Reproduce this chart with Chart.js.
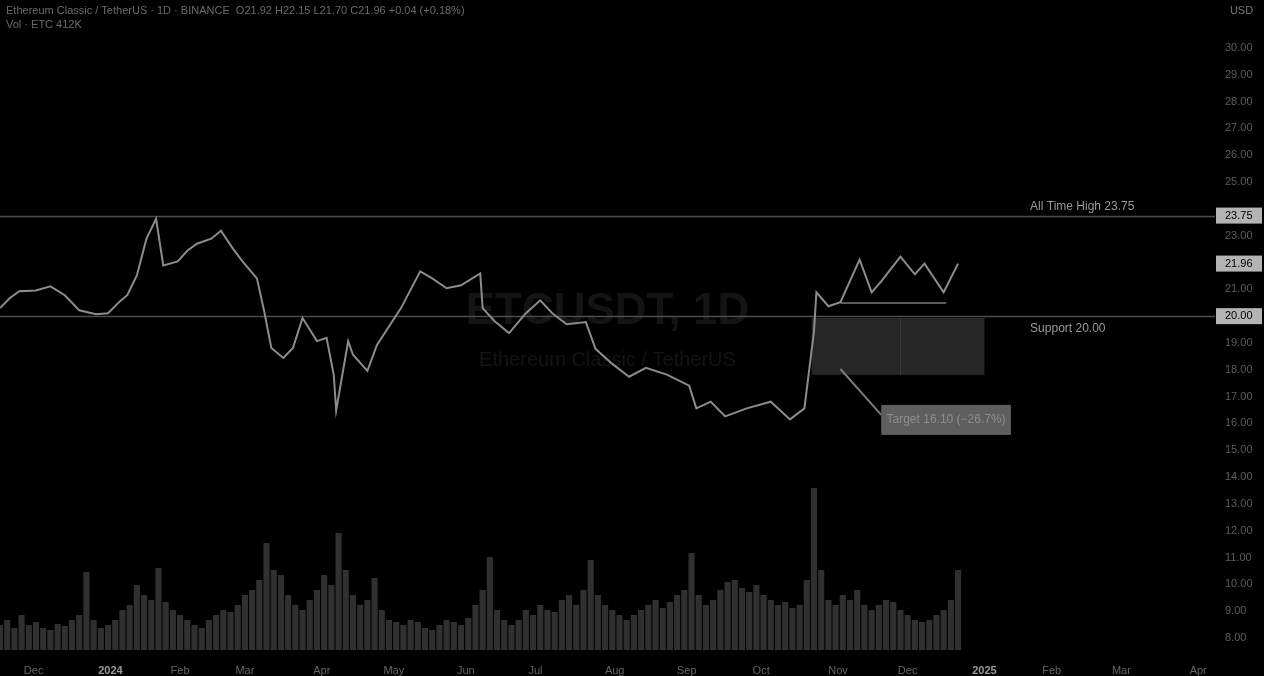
<!DOCTYPE html>
<html>
<head>
<meta charset="utf-8">
<script src="https://cdn.jsdelivr.net/npm/chart.js@4.4.1/dist/chart.umd.min.js"></script>
<style>
  html, body { margin: 0; padding: 0; background: #000; overflow: hidden; }
  canvas { display: block; }
</style>
</head>
<body>
<canvas id="myChart" width="1264" height="676"></canvas>
<script>
// price series (day index from start, close)
const priceDays = [0, 4, 8, 15, 21, 27, 33, 40, 45, 50, 53, 57, 61, 65, 68, 74, 78, 82, 88, 92,
  97, 101, 107, 110, 113, 118, 122, 126, 132, 136, 139, 140, 145, 147, 153, 157, 167, 175, 180, 186,
  192, 200, 201, 206, 212, 219, 225, 230, 236, 244, 248, 255, 262, 269, 278, 287, 290, 296, 302, 311,
  321, 329, 335, 339, 340, 345, 350, 358, 363, 367, 375, 381, 385, 393, 399];
const priceValues = [20.30, 20.67, 20.93, 20.96, 21.11, 20.78, 20.22, 20.07, 20.11, 20.56, 20.78, 21.52, 22.89, 23.63, 21.89, 22.04, 22.44, 22.70, 22.89, 23.19,
  22.52, 22.04, 21.41, 20.19, 18.81, 18.44, 18.81, 19.93, 19.07, 19.19, 17.81, 16.48, 19.07, 18.56, 17.96, 18.93, 20.30, 21.67, 21.41, 21.04,
  21.15, 21.59, 20.30, 19.81, 19.37, 20.11, 20.59, 20.11, 19.70, 19.78, 18.78, 18.22, 17.74, 18.07, 17.81, 17.41, 16.56, 16.81, 16.26, 16.56,
  16.81, 16.15, 16.56, 19.44, 20.89, 20.37, 20.52, 22.11, 20.89, 21.30, 22.22, 21.56, 21.96, 20.89, 21.96];

// volume (thousands)
const volDays = [0, 3, 6, 9, 12, 15, 18, 21, 24, 27, 30, 33, 36, 39, 42, 45, 48, 51, 54, 57,
  60, 63, 66, 69, 72, 75, 78, 81, 84, 87, 90, 93, 96, 99, 102, 105, 108, 111, 114, 117,
  120, 123, 126, 129, 132, 135, 138, 141, 144, 147, 150, 153, 156, 159, 162, 165, 168, 171, 174, 177,
  180, 183, 186, 189, 192, 195, 198, 201, 204, 207, 210, 213, 216, 219, 222, 225, 228, 231, 234, 237,
  240, 243, 246, 249, 252, 255, 258, 261, 264, 267, 270, 273, 276, 279, 282, 285, 288, 291, 294, 297,
  300, 303, 306, 309, 312, 315, 318, 321, 324, 327, 330, 333, 336, 339, 342, 345, 348, 351, 354, 357,
  360, 363, 366, 369, 372, 375, 378, 381, 384, 387, 390, 393, 396, 399];
const volValues = [25, 30, 22, 35, 25, 28, 22, 20, 26, 24, 30, 35, 78, 30, 22, 25, 30, 40, 45, 65,
  55, 50, 82, 48, 40, 35, 30, 25, 22, 30, 35, 40, 38, 45, 55, 60, 70, 107, 80, 75,
  55, 45, 40, 50, 60, 75, 65, 117, 80, 55, 45, 50, 72, 40, 30, 28, 25, 30, 28, 22,
  20, 25, 30, 28, 25, 32, 45, 60, 93, 40, 30, 25, 30, 40, 35, 45, 40, 38, 50, 55,
  45, 60, 90, 55, 45, 40, 35, 30, 35, 40, 45, 50, 42, 48, 55, 60, 97, 55, 45, 50,
  60, 68, 70, 62, 58, 65, 55, 50, 45, 48, 42, 45, 70, 162, 80, 50, 45, 55, 50, 60,
  45, 40, 45, 50, 48, 40, 35, 30, 28, 30, 35, 40, 50, 80];

// x axis labels
const tickDays = [14, 46, 75, 102, 134, 164, 194, 223, 256, 286, 317, 349, 378, 410, 438, 467, 499];
const tickLabels = ['Dec', '2024', 'Feb', 'Mar', 'Apr', 'May', 'Jun', 'Jul', 'Aug', 'Sep', 'Oct', 'Nov', 'Dec', '2025', 'Feb', 'Mar', 'Apr'];
const yearLabels = ['2024', '2025'];

// price axis
const priceTicks = [8, 9, 10, 11, 12, 13, 14, 15, 16, 17, 18, 19, 20, 21, 22, 23, 24, 25, 26, 27, 28, 29, 30];

// drawings
const athLevel = 23.75;
const supportLevel = 20.00;
const lastPrice = 21.96;
const rangeDays = [350, 394];
const rangeLevel = 20.49;
const zoneDays = [338, 375, 410];
const zonePrices = [19.93, 17.81];
const pathDays = [350, 367];
const pathPrices = [18.03, 16.32];
const targetDays = [367, 421];
const targetPrices = [16.69, 15.57];

const headerText = 'Ethereum Classic / TetherUS · 1D · BINANCE  O21.92 H22.15 L21.70 C21.96 +0.04 (+0.18%)';
const volText = 'Vol · ETC 412K';
const watermark = ['ETCUSDT, 1D', 'Ethereum Classic / TetherUS'];

const FONT = '"Liberation Sans", Arial, sans-serif';
Chart.defaults.font.family = FONT;

const overlay = {
  id: 'overlay',
  beforeDatasetsDraw(chart) {
    const { ctx, chartArea: a, scales: { x, y } } = chart;
    ctx.save();
    // watermark
    ctx.fillStyle = '#141414';
    ctx.textAlign = 'center';
    ctx.textBaseline = 'middle';
    const cx = (a.left + a.right) / 2;
    ctx.font = '600 44px ' + FONT;
    ctx.fillText(watermark[0], cx, a.top + (a.bottom - a.top) * 0.48);
    ctx.font = '20px ' + FONT;
    ctx.fillText(watermark[1], cx, a.top + (a.bottom - a.top) * 0.555);

    // zone box
    const zx0 = x.getPixelForValue(zoneDays[0]);
    const zx1 = x.getPixelForValue(zoneDays[1]);
    const zx2 = x.getPixelForValue(zoneDays[2]);
    const zy0 = y.getPixelForValue(zonePrices[0]);
    const zy1 = y.getPixelForValue(zonePrices[1]);
    ctx.fillStyle = '#262626';
    ctx.fillRect(zx0, zy0, zx2 - zx0, zy1 - zy0);
    ctx.strokeStyle = '#3a3a3a';
    ctx.lineWidth = 1;
    ctx.beginPath();
    ctx.moveTo(zx1, zy0);
    ctx.lineTo(zx1, zy1);
    ctx.stroke();

    // level lines
    ctx.strokeStyle = '#4c4c4c';
    ctx.lineWidth = 1.5;
    [athLevel, supportLevel].forEach(v => {
      const py = Math.round(y.getPixelForValue(v)) + 0.5;
      ctx.beginPath();
      ctx.moveTo(a.left, py);
      ctx.lineTo(a.right, py);
      ctx.stroke();
    });
    ctx.restore();
  },
  afterDatasetsDraw(chart) {
    const { ctx, chartArea: a, scales: { x, y } } = chart;
    ctx.save();
    ctx.textBaseline = 'middle';
    const marked = [athLevel, lastPrice, supportLevel];

    // price axis labels (skip the ones under a marker)
    ctx.font = '11px ' + FONT;
    ctx.textAlign = 'left';
    ctx.fillStyle = '#5c5c5c';
    priceTicks.forEach(v => {
      const py = y.getPixelForValue(v);
      if (marked.some(m => Math.abs(y.getPixelForValue(m) - py) < 14)) return;
      ctx.fillText(v.toFixed(2), a.right + 10, py);
    });

    // level labels
    ctx.fillStyle = '#9a9a9a';
    ctx.font = '12px ' + FONT;
    const lx = x.getPixelForValue(429);
    ctx.fillText('All Time High ' + athLevel.toFixed(2), lx, y.getPixelForValue(athLevel) - 9);
    ctx.fillText('Support ' + supportLevel.toFixed(2), lx, y.getPixelForValue(supportLevel) + 13);

    // target label
    const tx0 = x.getPixelForValue(targetDays[0]);
    const tx1 = x.getPixelForValue(targetDays[1]);
    const ty0 = y.getPixelForValue(targetPrices[0]);
    const ty1 = y.getPixelForValue(targetPrices[1]);
    ctx.fillStyle = '#5e5e5e';
    ctx.fillRect(tx0, ty0, tx1 - tx0, ty1 - ty0);
    ctx.fillStyle = '#8e8e8e';
    ctx.textAlign = 'center';
    ctx.font = '12px ' + FONT;
    ctx.fillText('Target 16.10 (−26.7%)', (tx0 + tx1) / 2, (ty0 + ty1) / 2);

    // highlighted price labels on the axis
    ctx.font = '11px ' + FONT;
    ctx.textAlign = 'left';
    marked.forEach(v => {
      const py = y.getPixelForValue(v);
      ctx.fillStyle = '#b4b4b4';
      ctx.fillRect(a.right + 1, py - 8, chart.width - a.right - 3, 16);
      ctx.fillStyle = '#000';
      ctx.fillText(v.toFixed(2), a.right + 10, py);
    });

    // header
    ctx.fillStyle = '#6a6a6a';
    ctx.font = '11px ' + FONT;
    ctx.fillText(headerText, 6, 11);
    ctx.fillText(volText, 6, 25);

    // currency button
    ctx.fillStyle = '#777';
    ctx.textAlign = 'center';
    ctx.fillText('USD', (a.right + chart.width) / 2 + 2, 11);
    ctx.restore();
  }
};

const ctx = document.getElementById('myChart').getContext('2d');
const myChart = new Chart(ctx, {
  data: {
    datasets: [
      {
        type: 'line',
        label: 'Price',
        data: priceDays.map((d, i) => ({ x: d, y: priceValues[i] })),
        borderColor: '#8c8c8c',
        borderWidth: 2,
        pointRadius: 0,
        tension: 0,
        yAxisID: 'y',
        order: 1
      },
      {
        type: 'line',
        label: 'Range',
        data: rangeDays.map(d => ({ x: d, y: rangeLevel })),
        borderColor: '#7a7a7a',
        borderWidth: 1.5,
        pointRadius: 0,
        yAxisID: 'y',
        order: 2
      },
      {
        type: 'line',
        label: 'Path',
        data: pathDays.map((d, i) => ({ x: d, y: pathPrices[i] })),
        borderColor: '#7a7a7a',
        borderWidth: 2,
        pointRadius: 0,
        yAxisID: 'y',
        order: 2
      },
      {
        type: 'bar',
        label: 'Volume',
        data: volDays.map((d, i) => ({ x: d, y: volValues[i] })),
        backgroundColor: '#303030',
        barPercentage: 0.85,
        categoryPercentage: 1,
        yAxisID: 'vol',
        order: 5
      }
    ]
  },
  options: {
    responsive: false,
    animation: false,
    layout: { padding: 0 },
    plugins: { legend: { display: false }, tooltip: { enabled: false } },
    scales: {
      x: {
        type: 'linear',
        min: 0,
        max: 506,
        offset: false,
        grid: { display: false, offset: false },
        border: { display: false },
        afterBuildTicks: s => { s.ticks = tickDays.map(v => ({ value: v })); },
        afterFit: s => { s.height = 26; },
        ticks: {
          autoSkip: false,
          maxRotation: 0,
          padding: 6,
          font: c => ({ size: 11, weight: yearLabels.includes(tickLabels[tickDays.indexOf(c.tick && c.tick.value)]) ? 'bold' : 'normal' }),
          color: c => yearLabels.includes(tickLabels[tickDays.indexOf(c.tick && c.tick.value)]) ? '#9a9a9a' : '#656565',
          callback: v => tickLabels[tickDays.indexOf(v)]
        }
      },
      y: {
        position: 'right',
        min: 7.55,
        max: 31.79,
        grid: { display: false },
        border: { display: false },
        ticks: { display: false },
        afterFit: s => { s.width = 49; }
      },
      vol: {
        display: false,
        min: 0,
        max: 650
      }
    }
  },
  plugins: [overlay]
});
</script>
</body>
</html>
